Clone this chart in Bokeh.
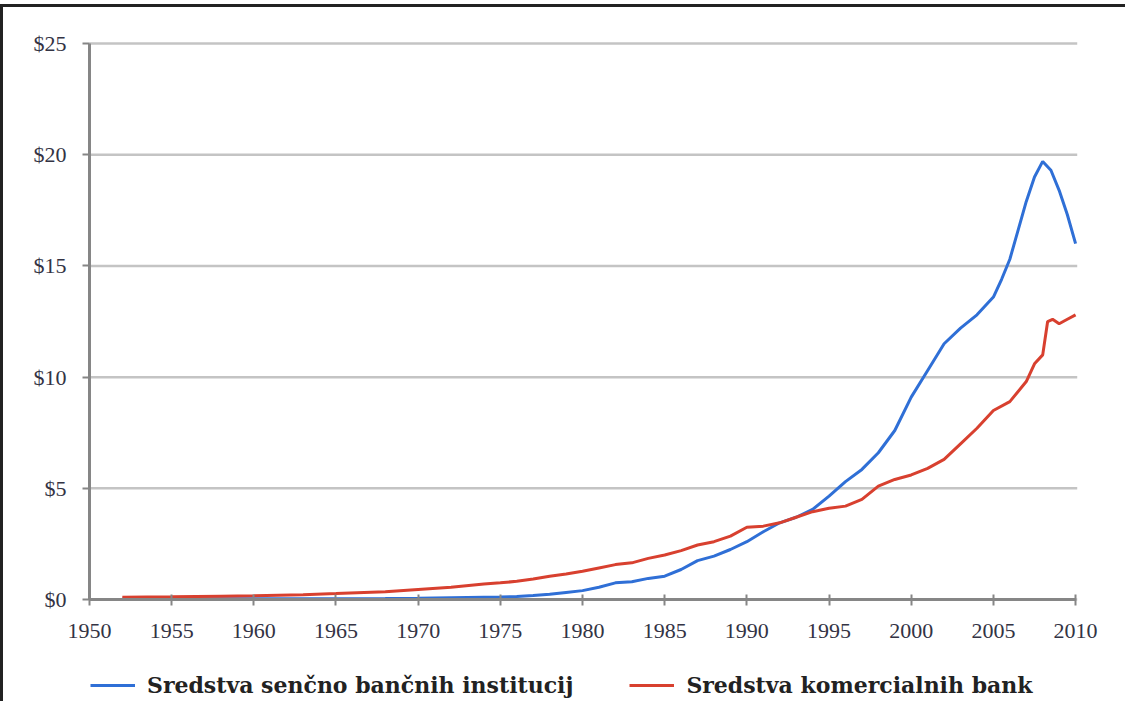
from bokeh.plotting import figure
from bokeh.models import Legend, LegendItem, FixedTicker, Range1d
from bokeh.embed import file_html
from bokeh.resources import INLINE

# Shadow banking assets (trillion $)
shadow_years = [1952, 1955, 1958, 1960, 1963, 1965, 1968, 1970, 1972, 1974, 1975, 1976,
                1977, 1978, 1979, 1980, 1981, 1982, 1983, 1984, 1985, 1986, 1987, 1988,
                1989, 1990, 1991, 1992, 1993, 1994, 1995, 1996, 1997, 1998, 1999, 2000,
                2001, 2002, 2003, 2004, 2005, 2005.5, 2006, 2006.5, 2007, 2007.5, 2008,
                2008.5, 2009, 2009.5, 2010]
shadow_values = [0.02, 0.02, 0.03, 0.03, 0.03, 0.04, 0.05, 0.06, 0.08, 0.10, 0.11, 0.14,
                 0.18, 0.24, 0.32, 0.40, 0.55, 0.75, 0.80, 0.95, 1.05, 1.35, 1.75, 1.95,
                 2.25, 2.60, 3.05, 3.45, 3.70, 4.05, 4.65, 5.30, 5.85, 6.60, 7.60, 9.10,
                 10.30, 11.50, 12.20, 12.80, 13.60, 14.40, 15.30, 16.60, 17.90, 19.00, 19.70,
                 19.30, 18.40, 17.30, 16.00]

# Commercial bank assets (trillion $)
bank_years = [1952, 1955, 1958, 1960, 1963, 1965, 1968, 1970, 1972, 1974, 1975, 1976,
              1977, 1978, 1979, 1980, 1981, 1982, 1983, 1984, 1985, 1986, 1987, 1988,
              1989, 1990, 1991, 1992, 1993, 1994, 1995, 1996, 1997, 1998, 1999, 2000,
              2001, 2002, 2003, 2004, 2005, 2006, 2007, 2007.5, 2008, 2008.3, 2008.6,
              2009, 2009.5, 2010]
bank_values = [0.10, 0.12, 0.15, 0.17, 0.22, 0.27, 0.35, 0.45, 0.55, 0.70, 0.75, 0.82,
               0.92, 1.05, 1.15, 1.27, 1.42, 1.57, 1.65, 1.85, 2.00, 2.20, 2.45, 2.60,
               2.85, 3.25, 3.30, 3.45, 3.70, 3.95, 4.10, 4.20, 4.50, 5.10, 5.40, 5.60,
               5.90, 6.30, 7.00, 7.70, 8.50, 8.90, 9.80, 10.60, 11.00, 12.50, 12.60,
               12.40, 12.60, 12.80]

x_ticks = [1950, 1955, 1960, 1965, 1970, 1975, 1980, 1985, 1990, 1995, 2000, 2005, 2010]
y_ticks = [0, 5, 10, 15, 20, 25]
y_labels = {0: "$0", 5: "$5", 10: "$10", 15: "$15", 20: "$20", 25: "$25"}

shadow_label = "Sredstva senčno bančnih institucij"
bank_label = "Sredstva komercialnih bank"

BLUE = "#2f6fd6"
RED = "#d8402f"

X0, X1 = x_ticks[0], x_ticks[-1]
Y0, Y1 = y_ticks[0], y_ticks[-1]

# the frame covers the whole canvas; axes are pinned to the data origin so the
# tick labels and the legend all stay inside the drawable area
p = figure(width=1125, height=697, output_backend="svg", toolbar_location=None,
           x_range=Range1d(1944.77, 2013.22), y_range=Range1d(-4.72, 26.62),
           min_border_left=0, min_border_right=0, min_border_top=0,
           min_border_bottom=0)
p.margin = (4, 0, 0, 0)
p.styles = {"border-top": "3px solid #222222", "border-left": "3px solid #222222"}
p.outline_line_color = None
p.background_fill_color = "white"
p.xgrid.grid_line_color = None
p.ygrid.grid_line_color = None

# horizontal gridlines at the y ticks, spanning the value range of x
p.segment(x0=[X0] * len(y_ticks), x1=[X1 + 0.1] * len(y_ticks), y0=y_ticks, y1=y_ticks,
          line_color="#c4c4c4", line_width=2.5)

r1 = p.line(shadow_years, shadow_values, line_color=BLUE, line_width=3)
r2 = p.line(bank_years, bank_values, line_color=RED, line_width=3)

# axes
p.xaxis.ticker = FixedTicker(ticks=x_ticks)
p.yaxis.ticker = FixedTicker(ticks=y_ticks)
p.yaxis.major_label_overrides = y_labels
p.xaxis.fixed_location = Y0
p.yaxis.fixed_location = X0
p.xaxis.bounds = (X0, X1)
p.yaxis.bounds = (Y0, Y1)
for ax in (p.xaxis[0], p.yaxis[0]):
    ax.axis_line_color = "#868686"
    ax.axis_line_width = 3
    ax.major_tick_line_color = "#868686"
    ax.major_tick_line_width = 2
    ax.minor_tick_line_color = None
    ax.major_label_text_font = "Liberation Serif"
    ax.major_label_text_font_size = "22px"
    ax.major_label_text_color = "#333344"
p.xaxis.major_tick_in = 5
p.xaxis.major_tick_out = 6
p.xaxis.major_label_standoff = 18
p.yaxis.major_tick_in = 0
p.yaxis.major_tick_out = 7
p.yaxis.major_label_standoff = 16

legend = Legend(items=[LegendItem(label=shadow_label, renderers=[r1]),
                       LegendItem(label=bank_label, renderers=[r2])],
                location=(87, 6), orientation="horizontal")
legend.glyph_width = 45
legend.label_standoff = 12
legend.spacing = 56
legend.label_text_font = "DejaVu Serif"
legend.label_text_font_style = "bold"
legend.label_text_font_size = "22px"
legend.label_text_color = "#222222"
legend.border_line_color = None
legend.background_fill_alpha = 0
legend.padding = 0
legend.margin = 0
p.add_layout(legend, "center")

open("out.html", "w").write(file_html(p, INLINE))
